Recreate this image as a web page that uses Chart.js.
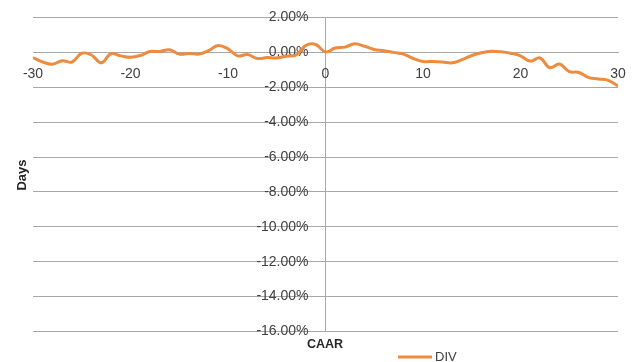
<!DOCTYPE html>
<html>
<head>
<meta charset="utf-8">
<script src="https://cdn.jsdelivr.net/npm/chart.js@4"></script>
<style>
html,body{margin:0;padding:0;background:#fff;}
#wrap{width:641px;height:362px;position:relative;}
</style>
</head>
<body>
<div id="wrap"><canvas id="c" width="641" height="362"></canvas></div>
<script>
const days = [-30,-29,-28,-27,-26,-25,-24,-23,-22,-21,-20,-19,-18,-17,-16,-15,-14,-13,-12,-11,-10,-9,-8,-7,-6,-5,-4,-3,-2,-1,0,1,2,3,4,5,6,7,8,9,10,11,12,13,14,15,16,17,18,19,20,21,22,23,24,25,26,27,28,29,30];
const divCaar = [-0.30,-0.55,-0.68,-0.48,-0.55,-0.05,-0.15,-0.60,-0.08,-0.20,-0.28,-0.18,0.05,0.05,0.15,-0.10,-0.06,-0.10,0.10,0.40,0.20,-0.20,-0.12,-0.35,-0.30,-0.32,-0.22,-0.15,0.40,0.45,0.02,0.25,0.30,0.50,0.35,0.17,0.10,0.00,-0.10,-0.35,-0.52,-0.52,-0.55,-0.60,-0.42,-0.18,-0.02,0.06,0.03,-0.05,-0.20,-0.50,-0.32,-0.88,-0.67,-1.10,-1.15,-1.45,-1.52,-1.60,-1.92];
const seriesName = 'DIV';
const xTitle = 'CAAR';
const yTitle = 'Days';

const lineColor = '#ED8B3E';
const gridColor = '#A8A8A8';
const font = "'Liberation Sans', Arial, sans-serif";

const textPlugin = {
  id: 'texts',
  afterDraw(chart) {
    const ctx = chart.ctx;
    ctx.save();
    ctx.fillStyle = '#262626';
    ctx.font = 'bold 13px ' + font;
    ctx.textAlign = 'center';
    ctx.textBaseline = 'middle';
    ctx.translate(22, 175);
    ctx.rotate(-Math.PI / 2);
    ctx.fillText(yTitle, 0, 0);
    ctx.restore();

    ctx.save();
    ctx.fillStyle = '#262626';
    ctx.font = 'bold 12.5px ' + font;
    ctx.textAlign = 'center';
    ctx.textBaseline = 'middle';
    ctx.fillText(xTitle, 325, 345);
    ctx.restore();

    ctx.save();
    ctx.strokeStyle = lineColor;
    ctx.lineWidth = 3;
    ctx.beginPath();
    ctx.moveTo(398, 357);
    ctx.lineTo(432, 357);
    ctx.stroke();
    ctx.fillStyle = '#404040';
    ctx.font = '13px ' + font;
    ctx.textAlign = 'left';
    ctx.textBaseline = 'middle';
    ctx.fillText(seriesName, 435, 357);
    ctx.restore();
  }
};

new Chart(document.getElementById('c'), {
  type: 'line',
  data: {
    datasets: [{
      label: seriesName,
      data: days.map((d, i) => ({x: d, y: divCaar[i]})),
      borderColor: lineColor,
      backgroundColor: lineColor,
      borderWidth: 3,
      pointRadius: 0,
      tension: 0.4,
      fill: false
    }]
  },
  options: {
    responsive: false,
    animation: false,
    layout: {padding: {left: 33, top: 17.5, right: 23, bottom: 30.5}},
    plugins: {legend: {display: false}, tooltip: {enabled: false}},
    scales: {
      x: {
        type: 'linear',
        position: {y: 0},
        min: -30, max: 30,
        ticks: {stepSize: 10, padding: 13, color: '#404040', font: {family: font, size: 14}, maxRotation: 0},
        grid: {display: true, drawTicks: false,
          color: c => (c.tick && c.tick.value === 0) ? gridColor : 'rgba(0,0,0,0)'},
        border: {display: true, color: gridColor, width: 1}
      },
      y: {
        type: 'linear',
        position: {x: -1.74},
        min: -16, max: 2,
        ticks: {stepSize: 2, color: '#404040', font: {family: font, size: 14},
          callback: v => v.toFixed(2) + '%'},
        grid: {display: true, color: gridColor, lineWidth: 1, drawTicks: false},
        border: {display: false}
      }
    }
  },
  plugins: [textPlugin]
});
</script>
</body>
</html>
